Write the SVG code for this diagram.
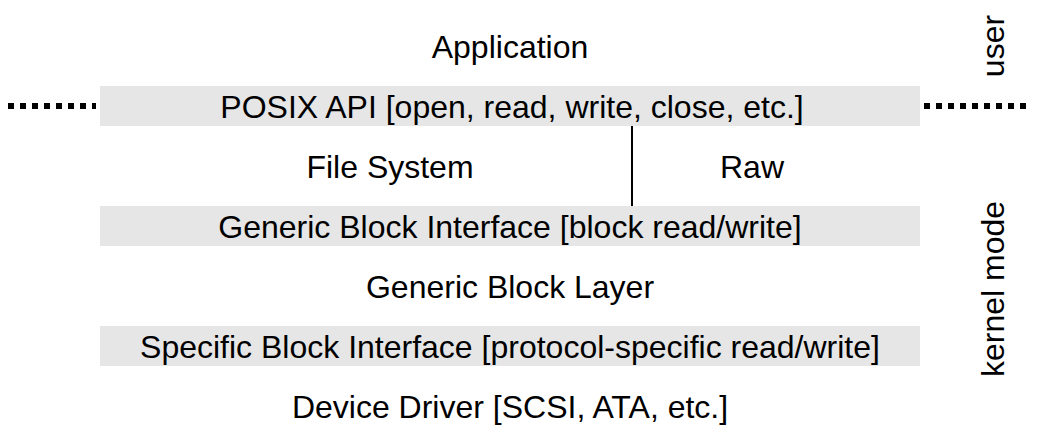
<svg xmlns="http://www.w3.org/2000/svg" width="1045" height="445" viewBox="0 0 1045 445">
<style>
.t{font-family:"Liberation Sans",Arial,sans-serif;font-size:32px;fill:#000;text-anchor:middle}
.bar{fill:#e6e6e6}
.dot{stroke:#000;stroke-width:6;stroke-dasharray:6 6}
</style>
<rect width="1045" height="445" fill="#fff"/>
<g id="posix"><rect class="bar" x="100" y="86" width="820" height="40"/><text class="t" x="512" y="118">POSIX API [open, read, write, close, etc.]</text></g>
<g id="generic-if"><rect class="bar" x="100" y="206" width="820" height="40"/><text class="t" x="510" y="238">Generic Block Interface [block read/write]</text></g>
<g id="specific-if"><rect class="bar" x="100" y="326" width="820" height="40"/><text class="t" x="510" y="358">Specific Block Interface [protocol-specific read/write]</text></g>
<g id="app"><text class="t" x="510" y="58">Application</text></g>
<g id="fs"><text class="t" x="390" y="178">File System</text></g>
<g id="raw"><text class="t" x="752" y="178">Raw</text></g>
<g id="gbl"><text class="t" x="510" y="298">Generic Block Layer</text></g>
<g id="dd"><text class="t" x="510" y="418">Device Driver [SCSI, ATA, etc.]</text></g>
<g id="user"><text class="t" transform="translate(1004,46) rotate(-90)">user</text></g>
<g id="kernel"><text class="t" transform="translate(1004,289) rotate(-90)">kernel mode</text></g>
<g id="connectors">
<line x1="632" y1="126" x2="632" y2="206" stroke="#000" stroke-width="2"/>
<line class="dot" x1="8" y1="106" x2="96" y2="106"/>
<line class="dot" x1="924" y1="106" x2="1030" y2="106"/>
</g>
</svg>
